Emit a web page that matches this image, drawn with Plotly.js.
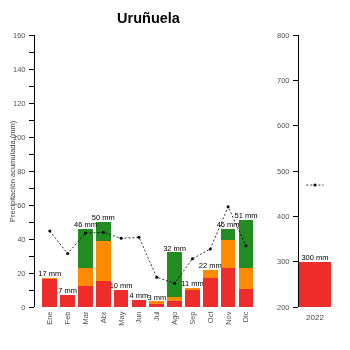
<!DOCTYPE html>
<html>
<head>
<meta charset="utf-8">
<script src="https://cdn.plot.ly/plotly-3.0.1.min.js"></script>
<style>html,body{margin:0;padding:0;background:#fff;}#chart{width:350px;height:350px;will-change:transform;opacity:0.999;}</style>
</head>
<body>
<div id="chart"></div>
<script>
const months = ["Ene","Feb","Mar","Abr","May","Jun","Jul","Ago","Sep","Oct","Nov","Dic"];
const redVals = [16.6, 7.0, 12.3, 15.4, 10.0, 4.4, 1.8, 3.7, 10.0, 17.2, 23.0, 10.6];
const orangeVals = [0.4, 0.0, 10.5, 23.6, 0.0, 0.0, 1.5, 2.2, 1.0, 4.8, 16.4, 12.4];
const greenVals = [0.0, 0.0, 23.2, 11.0, 0.0, 0.0, 0.0, 26.2, 0.0, 0.0, 6.6, 28.0];
const avgVals = [44.7, 31.4, 43.5, 43.9, 40.4, 41.0, 17.5, 13.9, 28.4, 34.1, 59.0, 36.0];
const yearLabel = ["2022"];
const annualAvg = [469];
const title = "Uruñuela";
const yTitle = "Precipitación acumulada (mm)";

const totals = months.map((m, i) => redVals[i] + orangeVals[i] + greenVals[i]);
const annualTotal = totals.reduce((a, b) => a + b, 0);
const labels = totals.map(t => Math.round(t) + " mm");

const RED = "#EE2C2C", ORANGE = "#FF8C00", GREEN = "#228B22";
const FAM = "Liberation Sans, Arial, sans-serif";
const tickFont = {family: FAM, size: 7.5, color: "#555555"};
const lblFont = {family: FAM, size: 7.5, color: "#000000"};
const barW = 0.82;

const traces = [
  {type: "bar", x: months, y: redVals, marker: {color: RED, line: {width: 0}}, width: barW, xaxis: "x", yaxis: "y", hoverinfo: "skip"},
  {type: "bar", x: months, y: orangeVals, marker: {color: ORANGE, line: {width: 0}}, width: barW, xaxis: "x", yaxis: "y", hoverinfo: "skip"},
  {type: "bar", x: months, y: greenVals, marker: {color: GREEN, line: {width: 0}}, width: barW, xaxis: "x", yaxis: "y", hoverinfo: "skip"},
  {type: "scatter", mode: "lines+markers", x: months, y: avgVals, line: {color: "#000", width: 0.8, dash: "2px,2px"}, marker: {color: "#000", size: 3}, xaxis: "x", yaxis: "y"},
  {type: "scatter", mode: "text", x: months, y: totals, text: labels, textposition: "top center", textfont: lblFont, xaxis: "x", yaxis: "y", cliponaxis: false},
  {type: "bar", x: [0], y: [annualTotal - 200], base: [200], width: 1, marker: {color: RED, line: {width: 0}}, xaxis: "x2", yaxis: "y2"},
  {type: "scatter", mode: "lines", x: [-0.27, 0.27], y: [annualAvg[0], annualAvg[0]], line: {color: "#000", width: 0.8, dash: "2px,2px"}, xaxis: "x2", yaxis: "y2"},
  {type: "scatter", mode: "markers", x: [0], y: annualAvg, marker: {color: "#000", size: 3}, xaxis: "x2", yaxis: "y2"},
  {type: "scatter", mode: "text", x: [0], y: [annualTotal], text: [Math.round(annualTotal) + " mm"], textposition: "top center", textfont: lblFont, xaxis: "x2", yaxis: "y2", cliponaxis: false}
];

const layout = {
  width: 350, height: 350,
  margin: {l: 0, r: 0, t: 0, b: 0},
  paper_bgcolor: "#fff", plot_bgcolor: "#fff",
  font: {family: FAM, color: "#000000"},
  showlegend: false,
  barmode: "stack",
  title: {text: "<b>" + title + "</b>", x: 148.5/350, xanchor: "center", y: 1 - 17.5/350, yanchor: "middle", font: {family: FAM, size: 14.5, color: "#000"}},
  annotations: [
    {text: yTitle, xref: "paper", yref: "paper", x: 12/350, y: 179/350, textangle: -90, showarrow: false, xanchor: "center", yanchor: "middle", font: {family: FAM, size: 7.5, color: "#444444"}}
  ],
  xaxis: {domain: [35/350, 262/350], type: "category", range: [-0.83, 11.9], showline: false, showgrid: false, zeroline: false, ticks: "", tickangle: -90, tickfont: tickFont, ticklabelstandoff: 2, anchor: "y"},
  yaxis: {domain: [43/350, 315/350], range: [0, 160], dtick: 20, showline: true, linecolor: "#000", linewidth: 1, ticks: "outside", ticklen: 5, tickcolor: "#000", tickwidth: 1, minor: {dtick: 10, ticks: "outside", ticklen: 5, tickcolor: "#000", tickwidth: 1, showgrid: false}, showgrid: false, zeroline: false, tickfont: tickFont, ticklabelstandoff: 2, anchor: "x"},
  xaxis2: {domain: [299/350, 331/350], range: [-0.5, 0.5], tickvals: [0], ticktext: yearLabel, showline: false, showgrid: false, zeroline: false, ticks: "", tickfont: {family: FAM, size: 8, color: "#444444"}, ticklabelstandoff: 4, anchor: "y2"},
  yaxis2: {domain: [43/350, 315/350], range: [200, 800], dtick: 100, showline: true, linecolor: "#000", linewidth: 1, ticks: "outside", ticklen: 5, tickcolor: "#000", tickwidth: 1, showgrid: false, zeroline: false, tickfont: tickFont, ticklabelstandoff: 2, anchor: "x2"}
};

Plotly.newPlot("chart", traces, layout, {displayModeBar: false, staticPlot: true});
</script>
</body>
</html>
